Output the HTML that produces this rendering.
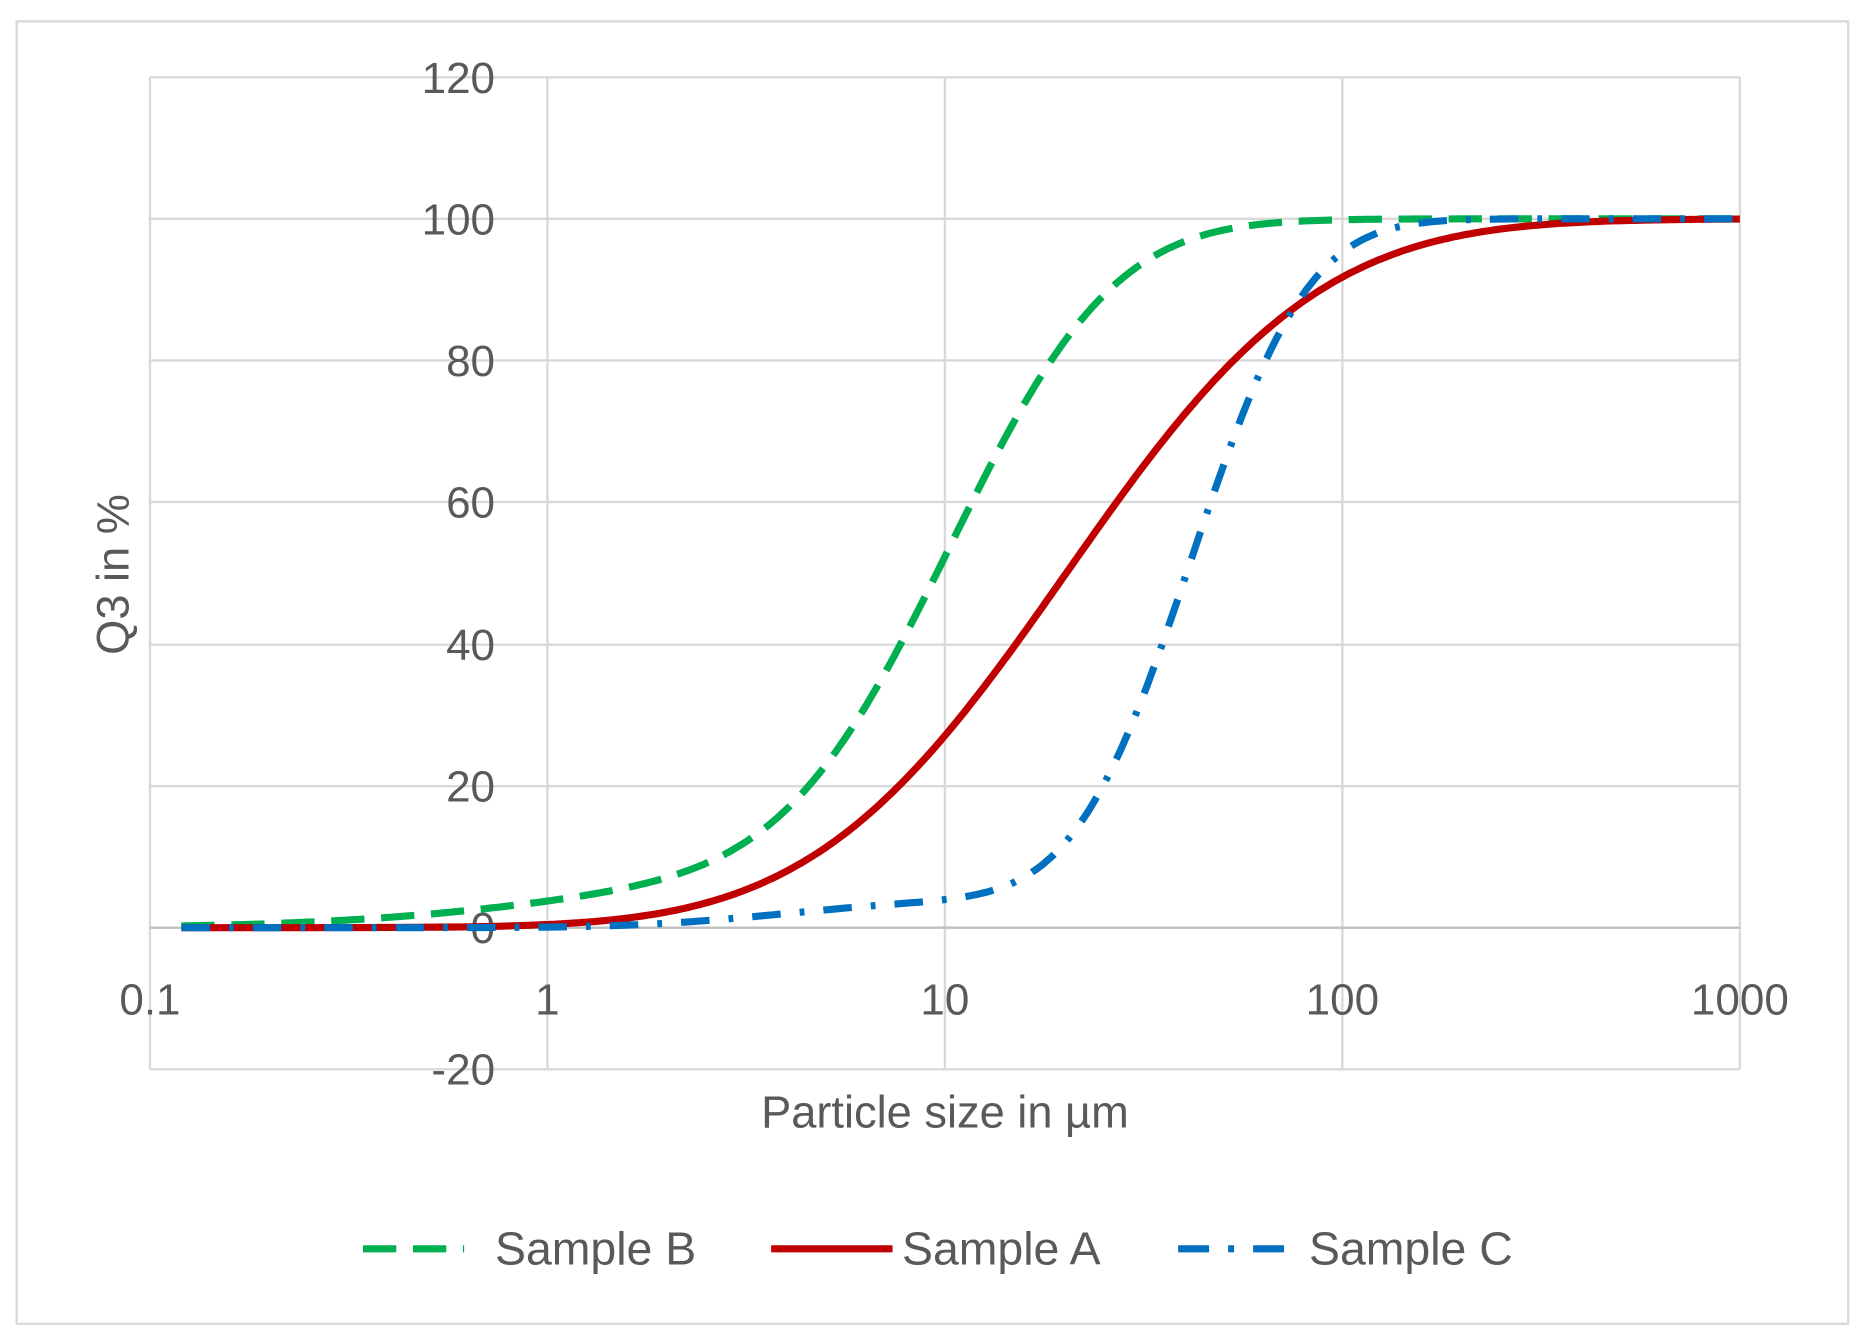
<!DOCTYPE html>
<html><head><meta charset="utf-8"><style>
html,body{margin:0;padding:0;background:#fff}
svg{display:block}
text{font-family:"Liberation Sans",sans-serif;fill:#595959}
</style></head><body>
<svg id="s" width="1866" height="1344" viewBox="0 0 1568 1130" preserveAspectRatio="none" xmlns="http://www.w3.org/2000/svg">
<rect x="0" y="0" width="1568" height="1130" fill="#fff"/>
<rect x="14" y="18" width="1539" height="1095" fill="none" stroke="#d9d9d9" stroke-width="2"/>
<g stroke="#d9d9d9" stroke-width="2">
<line x1="126" y1="65" x2="1462" y2="65"/>
<line x1="126" y1="184" x2="1462" y2="184"/>
<line x1="126" y1="303" x2="1462" y2="303"/>
<line x1="126" y1="422" x2="1462" y2="422"/>
<line x1="126" y1="542" x2="1462" y2="542"/>
<line x1="126" y1="661" x2="1462" y2="661"/>
<line x1="126" y1="899" x2="1462" y2="899"/>
<line x1="126" y1="65" x2="126" y2="899"/>
<line x1="460" y1="65" x2="460" y2="899"/>
<line x1="794" y1="65" x2="794" y2="899"/>
<line x1="1128" y1="65" x2="1128" y2="899"/>
<line x1="1462" y1="65" x2="1462" y2="899"/>
</g>
<line x1="126" y1="780" x2="1462" y2="780" stroke="#bfbfbf" stroke-width="2"/>
<g font-size="37" text-anchor="end">
<text x="416" y="78">120</text>
<text x="416" y="197">100</text>
<text x="416" y="316">80</text>
<text x="416" y="435">60</text>
<text x="416" y="555">40</text>
<text x="416" y="674">20</text>
<text x="416" y="793">0</text>
<text x="416" y="912">-20</text>
</g>
<g font-size="37" text-anchor="middle">
<text x="126" y="853">0.1</text>
<text x="460" y="853">1</text>
<text x="794" y="853">10</text>
<text x="1128" y="853">100</text>
<text x="1462" y="853">1000</text>
<text x="794" y="948" font-size="38">Particle size in µm</text>
</g>
<text x="0" y="0" font-size="38" text-anchor="middle" transform="translate(108,483) rotate(-90)">Q3 in %</text>
<path id="pB" fill="none" stroke="#00B050" stroke-width="6" stroke-dasharray="28,14"/>
<path id="pA" fill="none" stroke="#C00000" stroke-width="6"/>
<path id="pC" fill="none" stroke="#0070C0" stroke-width="6" stroke-dasharray="24,16,4,16"/>
<line x1="305" y1="1050" x2="390" y2="1050" stroke="#00B050" stroke-width="6" stroke-dasharray="28,14"/>
<line x1="648" y1="1050" x2="750" y2="1050" stroke="#C00000" stroke-width="6"/>
<line x1="990" y1="1050" x2="1095" y2="1050" stroke="#0070C0" stroke-width="6" stroke-dasharray="26,16,5,16"/>
<g font-size="39">
<text x="416" y="1063">Sample B</text>
<text x="758" y="1063">Sample A</text>
<text x="1100" y="1063">Sample C</text>
</g>
</svg>
<script>
function erf(x){var s=x<0?-1:1;x=Math.abs(x);var t=1/(1+0.3275911*x);var y=1-(((((1.061405429*t-1.453152027)*t)+1.421413741)*t-0.284496736)*t+0.254829592)*t*Math.exp(-x*x);return s*y;}
function N(z){return 0.5*(1+erf(z/Math.SQRT2));}
function fA(l){return N((l-1.305)/0.5);}
function fB(l){return 0.88*N((l-1.02)/0.32)+0.12*N((l-0.3)/0.6);}
function fC(l){return 0.96*N((l-1.62)/0.23)+0.04*N((l-0.6)/0.3);}
function path(f){var d="";for(var i=0;i<=400;i++){var l=Math.log10(0.12)+(3-Math.log10(0.12))*i/400;var x=460+334*l;var y=780-596*f(l);d+=(i?"L":"M")+x.toFixed(1)+","+y.toFixed(1);}return d;}
document.getElementById("pA").setAttribute("d",path(fA));
document.getElementById("pB").setAttribute("d",path(fB));
document.getElementById("pC").setAttribute("d",path(fC));
</script>
</body></html>
